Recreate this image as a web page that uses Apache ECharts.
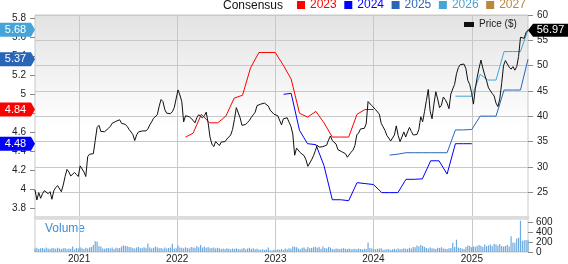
<!DOCTYPE html>
<html><head><meta charset="utf-8">
<script src="https://cdn.jsdelivr.net/npm/echarts@6/dist/echarts.min.js"></script>
<style>html,body{margin:0;padding:0;background:#fff}#c{width:568px;height:264px}</style>
</head><body><div id="c"></div>
<script>
// ---------- data ----------
const weekStart = '2020-07-21';      // first weekly observation
const weekEnd = '2025-07-29';        // last weekly observation
const yearTicks = ['2021-01-01', '2022-01-01', '2023-01-01', '2024-01-01', '2025-01-01'];
const consensusTicks = [3.8, 4, 4.2, 4.4, 4.6, 4.8, 5, 5.2, 5.4, 5.6, 5.8];
const volumeTicks = [0, 200, 400, 600];

const priceValues = [
25.44,23.46,24.9,23.8,24.7,25.3,25.2,24.7,25.1,23.6,
25.3,25.9,26.3,26.4,25.1,26.4,28.1,29.5,29.0,28.2,
28.5,28.9,28.5,28.1,30.2,30.0,29.0,28.1,32.0,32.5,
32.7,32.6,35.2,37.8,38.2,37.0,36.9,36.95,37.3,37.6,
38.0,38.6,38.8,39.0,38.9,39.3,38.6,38.3,38.4,38.0,
37.4,37.1,36.4,35.2,36.3,36.9,36.7,37.1,37.2,37.1,
37.5,38.3,38.9,39.6,39.4,40.3,42.0,43.3,42.9,41.3,
40.6,40.6,40.5,40.9,41.7,41.4,45.2,44.2,42.9,38.9,
40.1,40.1,39.9,39.6,39.2,38.7,39.7,40.3,40.3,39.7,
40.1,40.8,38.7,35.9,34.5,34.0,35.0,34.9,34.2,34.9,
34.7,35.0,35.5,35.8,36.3,37.4,39.4,41.7,41.5,39.7,
38.2,38.0,38.4,38.8,39.2,39.8,40.3,40.8,42.1,42.0,
42.4,42.4,42.6,42.9,42.0,41.2,40.9,40.4,40.3,40.1,
39.9,38.3,39.5,39.8,39.7,39.5,38.0,36.5,32.3,33.7,
33.5,32.8,32.5,32.2,31.4,30.1,30.4,31.4,32.2,33.2,
34.3,33.9,33.6,34.0,33.7,34.3,35.3,36.1,35.2,34.9,
34.5,33.4,33.7,33.0,32.8,32.6,31.9,32.2,32.9,33.3,
34.2,36.3,36.7,37.5,37.3,37.6,38.5,42.9,42.7,42.1,
41.8,41.3,41.0,40.4,38.6,37.9,37.2,36.2,35.7,35.1,
35.2,36.3,38.1,36.2,35.0,35.9,36.9,35.9,36.9,37.8,
37.0,36.3,36.1,36.4,37.4,39.9,38.9,40.9,43.1,45.3,
41.0,39.5,42.4,44.85,43.4,41.7,42.2,43.8,43.3,42.6,
41.5,44.4,45.4,46.3,48.4,49.6,50.2,50.5,50.3,49.4,
47.1,46.3,44.7,42.4,45.5,47.7,49.5,51.1,49.5,48.15,
47.0,45.6,45.4,44.5,44.0,42.6,41.9,43.4,46.5,50.0,
51.0,50.8,49.7,49.3,49.8,49.1,49.8,51.8,55.6,55.3,
55.4,56.6,56.97
];

const volumeValues = [
70,85,60,75,80,65,90,70,60,80,
75,65,85,70,60,75,80,55,70,65,
110,50,80,70,95,75,60,85,70,90,
100,140,215,210,120,110,70,65,75,80,
70,90,60,85,75,80,110,130,125,115,
100,95,80,70,90,100,75,85,95,80,
170,90,70,85,110,95,75,80,65,90,
70,80,90,165,70,75,130,90,85,75,
95,80,70,100,90,85,120,95,140,90,
110,85,100,75,80,90,70,85,75,60,
70,60,75,65,55,70,60,75,60,50,
65,80,55,70,85,60,75,55,65,50,
45,55,40,50,90,35,30,45,40,55,
45,60,40,70,55,75,65,110,105,95,
70,55,85,90,60,100,75,80,95,105,
85,100,65,110,80,70,100,90,60,55,
70,65,60,70,75,65,60,70,55,60,
65,55,70,60,50,65,60,190,80,70,
60,55,65,70,75,45,50,55,60,40,
55,65,50,70,55,60,75,65,60,85,
70,100,95,130,110,140,120,100,80,70,
90,75,70,60,85,80,95,70,65,60,
75,80,183,100,246,90,80,70,60,100,
130,120,95,110,105,120,140,125,100,150,
115,130,150,120,165,150,130,160,120,110,
120,140,110,315,190,183,270,285,625,225,
235,240,235
];

const cons2023 = [['2022-02-01',4.55],['2022-03-01',4.59],['2022-04-01',4.79],['2022-05-01',4.70],['2022-06-01',4.70],['2022-07-01',4.77],['2022-08-01',4.96],['2022-09-01',4.99],['2022-10-01',5.28],['2022-11-01',5.44],['2022-12-01',5.44],['2023-01-01',5.44],['2023-02-01',5.30],['2023-03-01',5.16],['2023-04-01',4.80],['2023-05-01',4.76],['2023-06-01',4.82],['2023-07-01',4.70],['2023-08-01',4.55],['2023-09-01',4.55],['2023-10-01',4.55],['2023-11-01',4.79],['2023-12-01',4.84],['2024-01-01',4.84]];
const cons2024 = [['2023-02-01',5.00],['2023-03-01',5.01],['2023-04-01',4.62],['2023-05-01',4.48],['2023-06-01',4.47],['2023-07-01',4.25],['2023-08-01',3.89],['2023-09-01',3.89],['2023-10-01',3.88],['2023-11-01',4.07],['2023-12-01',4.06],['2024-01-01',4.05],['2024-02-01',3.965],['2024-03-01',3.965],['2024-04-01',3.965],['2024-05-01',4.105],['2024-06-01',4.105],['2024-07-01',4.11],['2024-08-01',4.30],['2024-09-01',4.30],['2024-10-01',4.16],['2024-11-01',4.48],['2024-12-01',4.48],['2025-01-01',4.48]];
const cons2025 = [['2024-03-01',4.36],['2024-04-01',4.37],['2024-05-01',4.385],['2024-06-01',4.385],['2024-07-01',4.385],['2024-08-01',4.385],['2024-09-01',4.385],['2024-10-01',4.385],['2024-11-01',4.625],['2024-12-01',4.625],['2025-01-01',4.63],['2025-02-01',4.77],['2025-03-01',4.77],['2025-04-01',4.77],['2025-05-01',5.045],['2025-06-01',5.045],['2025-07-01',5.045],['2025-07-29',5.37]];
const cons2026 = [['2024-11-01',4.98],['2024-12-01',4.98],['2025-01-01',4.98],['2025-02-01',5.21],['2025-03-01',5.15],['2025-04-01',5.15],['2025-05-01',5.45],['2025-06-01',5.45],['2025-07-01',5.45],['2025-07-29',5.68]];
const cons2027 = [];

const seriesNames = ['2023', '2024', '2025', '2026', '2027'];
const seriesColors = ['#ff0000', '#0000ff', '#2a66b8', '#45a5d8', '#b8883c'];

// ---------- build ----------
const DAY = 86400000;
const t0 = Date.parse(weekStart);
const tEnd = Date.parse(weekEnd);
const weekDates = priceValues.map((_, i) => t0 + i * 7 * DAY);
const priceData = priceValues.map((v, i) => [weekDates[i], v]);
const volumeData = volumeValues.map((v, i) => [weekDates[i], v]);
const yearTs = yearTicks.map(d => Date.parse(d));
const toTs = arr => arr.map(p => [Date.parse(p[0]), p[1]]);
const consData = [cons2023, cons2024, cons2025, cons2026, cons2027].map(toTs);

const FONT = 'Liberation Sans, Arial, sans-serif';
const leftBadge = 'path://M0,0L31,0L35,7L31,14L0,14Z';
const rightBadge = 'path://M0,6.5L5,0L41,0L41,13L5,13Z';

const consSeries = consData.map((d, k) => {
  const s = {
    name: seriesNames[k], type: 'line', xAxisIndex: 0, yAxisIndex: 0,
    data: d, showSymbol: false, symbol: 'none',
    lineStyle: { color: seriesColors[k], width: 1 },
    itemStyle: { color: seriesColors[k] }, z: 3
  };
  if (d.length) {
    const last = d[d.length - 1][1];
    s.markPoint = {
      silent: true, symbol: leftBadge, symbolSize: [35, 14], symbolOffset: [-17.5, 0],
      itemStyle: { color: seriesColors[k] },
      label: { show: true, color: '#fff', fontSize: 11, fontFamily: FONT, offset: [-2, 0],
               formatter: p => p.value.toFixed(2) },
      data: [{ coord: [t0, last], value: last }]
    };
  }
  return s;
});

const lastPrice = priceValues[priceValues.length - 1];

const option = {
  animation: false,
  backgroundColor: '#fff',
  textStyle: { fontFamily: FONT },
  graphic: [
    { type: 'text', left: 223, top: 0, style: { text: 'Consensus', font: '12px ' + FONT, fill: '#111' } },
    { type: 'text', left: 45, top: 223, style: { text: 'Volume', font: '12px ' + FONT, fill: '#3a8fd6' } }
  ],
  legend: [
    {
      left: 297, top: -1, padding: 0, itemWidth: 8, itemHeight: 8, itemGap: 7.6, icon: 'rect',
      selectedMode: false,
      textStyle: { fontSize: 12, fontFamily: FONT },
      data: seriesNames.map((n, k) => ({ name: n, textStyle: { color: seriesColors[k] } }))
    },
    {
      left: 464, top: 19.5, padding: 0, itemWidth: 10, itemHeight: 5, icon: 'rect',
      selectedMode: false,
      textStyle: { fontSize: 10, color: '#222', fontFamily: FONT },
      data: ['Price ($)']
    }
  ],
  grid: [
    { left: 35, right: 40, top: 15, bottom: 46.5, show: true, borderColor: '#c8c8c8', borderWidth: 1,
      backgroundColor: { type: 'linear', x: 0, y: 0, x2: 0, y2: 1,
        colorStops: [{ offset: 0, color: '#e3e3e3' }, { offset: 0.55, color: '#ffffff' }, { offset: 1, color: '#ffffff' }] } },
    { left: 35, right: 40, top: 219, bottom: 10, show: true, borderColor: '#c8c8c8', borderWidth: 1, backgroundColor: '#fff' }
  ],
  xAxis: [
    { type: 'value', gridIndex: 0, min: t0, max: tEnd,
      axisLine: { show: true, onZero: false, lineStyle: { color: '#dcdcdc', width: 3 } },
      axisTick: { show: false, customValues: yearTs },
      axisLabel: { show: false, customValues: yearTs },
      splitLine: { show: true, lineStyle: { color: '#c8c8c8', width: 1 } } },
    { type: 'value', gridIndex: 1, min: t0, max: tEnd,
      axisLine: { show: false },
      axisTick: { show: false, customValues: yearTs },
      axisLabel: { show: true, customValues: yearTs, fontSize: 10, color: '#222', margin: 2,
                   formatter: v => String(new Date(v).getUTCFullYear()) },
      splitLine: { show: true, lineStyle: { color: '#c8c8c8', width: 1 } } }
  ],
  yAxis: [
    { type: 'value', gridIndex: 0, position: 'left', min: 3.703, max: 5.835,
      axisLine: { show: false },
      axisTick: { show: true, length: 5, customValues: consensusTicks, lineStyle: { color: '#888' } },
      axisLabel: { customValues: consensusTicks, fontSize: 10, color: '#222', margin: 9,
                   formatter: v => String(+(+v).toFixed(1)) },
      splitLine: { show: false } },
    { type: 'value', gridIndex: 0, position: 'right', min: 20, max: 60, interval: 5,
      axisLine: { show: false },
      axisTick: { show: true, length: 5, lineStyle: { color: '#888' } },
      axisLabel: { fontSize: 10, color: '#222', margin: 9, showMinLabel: false },
      splitLine: { show: true, lineStyle: { color: '#c8c8c8', width: 1 } } },
    { type: 'value', gridIndex: 1, position: 'right', min: 0, max: 660,
      axisLine: { show: false },
      axisTick: { show: true, length: 5, customValues: volumeTicks, lineStyle: { color: '#888' } },
      axisLabel: { customValues: volumeTicks, fontSize: 10, color: '#222', margin: 8 },
      splitLine: { show: false } }
  ],
  series: [
    ...consSeries,
    { name: 'Price ($)', type: 'line', xAxisIndex: 0, yAxisIndex: 1, data: priceData,
      showSymbol: false, symbol: 'none', lineStyle: { color: '#111', width: 1 }, itemStyle: { color: '#111' }, z: 4,
      markPoint: {
        silent: true, symbol: rightBadge, symbolSize: [41, 13], symbolOffset: [20.5, 0],
        itemStyle: { color: '#000' },
        label: { show: true, color: '#fff', fontSize: 11, fontFamily: FONT, offset: [2, 0],
                 formatter: p => p.value.toFixed(2) },
        data: [{ coord: [tEnd, lastPrice], value: lastPrice }]
      } },
    { name: 'Volume', type: 'bar', xAxisIndex: 1, yAxisIndex: 2, data: volumeData,
      barWidth: 1.2, itemStyle: { color: '#6ea9de' } }
  ]
};

const chart = echarts.init(document.getElementById('c'), null, { renderer: 'canvas' });
chart.setOption(option);
</script>
</body></html>
